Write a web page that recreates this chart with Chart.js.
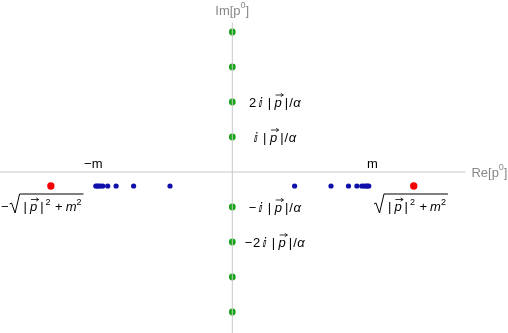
<!DOCTYPE html>
<html>
<head>
    <title>Poles in the complex p0 plane</title>
    <script src="https://cdn.jsdelivr.net/npm/chart.js"></script>
    <style>
        body { margin: 0; background: #fff; }
    </style>
</head>
<body>
    <canvas id="poleChart" width="508" height="333"></canvas>

    <script>
        // imaginary parts of the green poles, in units of |p|/alpha
        const greenIm = [4, 3, 2, 1, -1, -2, -3, -4];
        // real parts of the blue poles, in units of m (mirrored on both sides)
        const blueRe = [0.445, 0.705, 0.83, 0.89, 0.925, 0.94, 0.955, 0.965, 0.975];
        const blueIm = -0.4;
        // red poles at +/- sqrt(|p|^2 + m^2)
        const redRe = [-1.296, 1.296];
        const redIm = -0.4;
        // axis extents
        const reAxis = [-1.66, 1.665];
        const imAxis = [-4.6, 4.27];

        const greenPts = greenIm.map(v => ({ x: 0, y: v }));
        const bluePts = blueRe.flatMap(v => [{ x: -v, y: blueIm }, { x: v, y: blueIm }]);
        const redPts = redRe.map(v => ({ x: v, y: redIm }));

        const FONT = "'Liberation Sans', Arial, 'DejaVu Sans', sans-serif";

        function setFont(ctx, p) {
            ctx.font = (p.it ? 'italic ' : '') + (p.sup ? '9px ' : '13px ') + FONT;
        }

        // draw a sequence of text pieces; returns width
        function drawRich(ctx, x, y, parts, align, dry) {
            let w = 0;
            const widths = parts.map(p => {
                setFont(ctx, p);
                return ctx.measureText(p.t).width + (p.gap || 0);
            });
            widths.forEach(v => w += v);
            if (dry) return w;
            let cx = align === 'center' ? x - w / 2 : x;
            parts.forEach((p, i) => {
                setFont(ctx, p);
                ctx.fillText(p.t, cx, p.sup ? y - 6 : y);
                if (p.vec) {
                    const cw = ctx.measureText(p.t).width;
                    const ax0 = cx + 1, ax1 = cx + cw + 1.5, ay = y - 11.5;
                    ctx.beginPath();
                    ctx.moveTo(ax0, ay); ctx.lineTo(ax1, ay);
                    ctx.moveTo(ax1 - 2.5, ay - 1.7); ctx.lineTo(ax1, ay); ctx.lineTo(ax1 - 2.5, ay + 1.7);
                    ctx.lineWidth = 0.8;
                    ctx.stroke();
                }
                cx += widths[i];
            });
            return w;
        }

        const pAbs = [
            { t: '|', gap: 3.5 }, { t: 'p', it: true, vec: true, gap: 3 }, { t: '|', gap: 1 }
        ];
        const sqrtBody = [
            { t: '|', gap: 3 }, { t: 'p', it: true, vec: true, gap: 3 }, { t: '|', gap: 2 },
            { t: '2', sup: true, gap: 4.5 }, { t: '+', gap: 3 }, { t: 'm', it: true }, { t: '2', sup: true }
        ];

        function drawSqrt(ctx, x, y, prefix) {
            let cx = x;
            if (prefix) {
                ctx.font = '13px ' + FONT;
                ctx.fillText('\u2212', cx, y);
                cx += ctx.measureText('\u2212').width + 1;
            }
            const bw = drawRich(ctx, 0, 0, sqrtBody, 'left', true);
            ctx.beginPath();
            ctx.moveTo(cx, y - 7);
            ctx.lineTo(cx + 2, y - 8);
            ctx.lineTo(cx + 5.5, y + 2);
            ctx.lineTo(cx + 10, y - 17);
            ctx.lineTo(cx + 16 + bw, y - 17);
            ctx.lineWidth = 1;
            ctx.strokeStyle = '#000';
            ctx.stroke();
            drawRich(ctx, cx + 14, y, sqrtBody, 'left');
        }

        const labelPlugin = {
            id: 'labels',
            afterDatasetsDraw(chart) {
                const ctx = chart.ctx;
                const xs = chart.scales.x, ys = chart.scales.y;
                ctx.save();
                ctx.fillStyle = '#000';
                ctx.strokeStyle = '#000';

                // axis titles
                ctx.fillStyle = '#888';
                ctx.font = '13px ' + FONT;
                ctx.textAlign = 'left';
                ctx.textBaseline = 'middle';
                const rx = xs.getPixelForValue(reAxis[1]) + 6;
                const ry = ys.getPixelForValue(0) + 1;
                ctx.fillText('Re[p', rx, ry);
                let rw = ctx.measureText('Re[p').width;
                ctx.font = '9px ' + FONT;
                ctx.fillText('0', rx + rw, ry - 5);
                const zw = ctx.measureText('0').width;
                ctx.font = '13px ' + FONT;
                ctx.fillText(']', rx + rw + zw, ry);

                const imx = xs.getPixelForValue(0) - 17;
                ctx.fillText('Im[p', imx, 11);
                rw = ctx.measureText('Im[p').width;
                ctx.font = '9px ' + FONT;
                ctx.fillText('0', imx + rw, 6);
                ctx.font = '13px ' + FONT;
                ctx.fillText(']', imx + rw + zw, 11);

                // m labels
                ctx.fillStyle = '#000';
                ctx.textBaseline = 'alphabetic';
                ctx.textAlign = 'center';
                ctx.fillText('\u2212m', xs.getPixelForValue(-1) + 1, 168);
                ctx.fillText('m', xs.getPixelForValue(1), 168);

                // green pole labels
                ctx.textAlign = 'left';
                const ii = '\u2148';
                const gx = xs.getPixelForValue(0) + 42.5;
                const off = 4.5;
                const tail = [{ t: '/', gap: 0.5 }, { t: '\u03B1', it: true }];
                drawRich(ctx, gx, ys.getPixelForValue(2) + off,
                    [{ t: '2', gap: 2 }, { t: ii, gap: 5 }].concat(pAbs, tail), 'center');
                drawRich(ctx, gx, ys.getPixelForValue(1) + off,
                    [{ t: ii, gap: 5 }].concat(pAbs, tail), 'center');
                drawRich(ctx, gx, ys.getPixelForValue(-1) + off,
                    [{ t: '\u2212', gap: 2 }, { t: ii, gap: 5 }].concat(pAbs, tail), 'center');
                drawRich(ctx, gx, ys.getPixelForValue(-2) + off,
                    [{ t: '\u2212', gap: 0.5 }, { t: '2', gap: 2 }, { t: ii, gap: 5 }].concat(pAbs, tail), 'center');

                // red pole labels
                drawSqrt(ctx, 1, 211, true);
                drawSqrt(ctx, 374, 211, false);
                ctx.restore();
            }
        };

        new Chart(document.getElementById('poleChart'), {
            type: 'scatter',
            data: {
                datasets: [
                    {
                        data: [{ x: reAxis[0], y: 0 }, { x: reAxis[1], y: 0 }],
                        showLine: true, pointRadius: 0, borderColor: '#c8c8c8', borderWidth: 1
                    },
                    {
                        data: [{ x: 0, y: imAxis[0] }, { x: 0, y: imAxis[1] }],
                        showLine: true, pointRadius: 0, borderColor: '#c8c8c8', borderWidth: 1
                    },
                    {
                        data: greenPts, pointRadius: 3.4, borderWidth: 0,
                        backgroundColor: 'rgb(25,165,25)'
                    },
                    {
                        data: bluePts, pointRadius: 2.6, borderWidth: 0,
                        backgroundColor: 'rgb(15,15,170)'
                    },
                    {
                        data: redPts, pointRadius: 3.7, borderWidth: 0,
                        backgroundColor: 'rgb(245,0,0)'
                    }
                ]
            },
            options: {
                responsive: false,
                animation: false,
                layout: { padding: 0, autoPadding: false },
                plugins: { legend: { display: false }, tooltip: { enabled: false } },
                scales: {
                    x: { type: 'linear', display: false, min: -232.3 / 140, max: (508 - 232.3) / 140 },
                    y: { type: 'linear', display: false, min: -(333 - 172) / 35, max: 172 / 35 }
                }
            },
            plugins: [labelPlugin]
        });
    </script>
</body>
</html>
